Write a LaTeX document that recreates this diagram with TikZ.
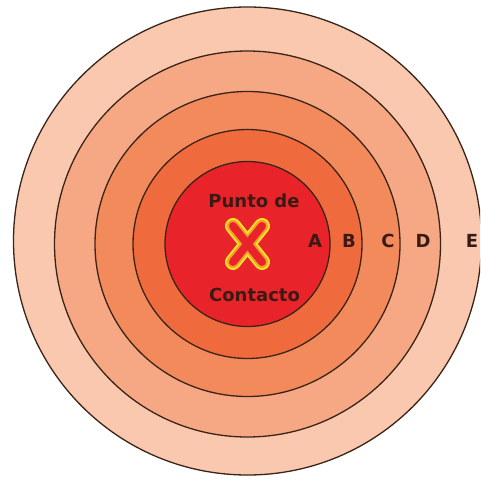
\documentclass[tikz,border=0pt]{standalone}
\usepackage{fontspec}
\setmainfont{DejaVu Sans}
\usepackage{xcolor}
\definecolor{zoneE}{HTML}{F9C8AE}
\definecolor{zoneD}{HTML}{F6A884}
\definecolor{zoneC}{HTML}{F28A5C}
\definecolor{zoneB}{HTML}{EF6B3E}
\definecolor{zoneA}{HTML}{E8242A}
\definecolor{ringline}{HTML}{3A2418}
\definecolor{txt}{HTML}{3A1A14}
\definecolor{xyellow}{HTML}{F8E02A}
\definecolor{xorange}{HTML}{F2A428}
\tikzset{
  ring/.style={draw=ringline, line width=1.3pt},
  zonelbl/.style={text=txt, font=\bfseries\fontsize{18}{20}\selectfont, inner sep=0pt},
}

\begin{document}
\begin{tikzpicture}[x=1pt, y=-1pt]
        \useasboundingbox (0,0) rectangle (480,481);
        \clip (0,0) rectangle (480,481);
        \fill [white](0,0) rectangle (480,481);

        \coordinate (ctr) at (247.5,244);
        % zones, outside in
        \draw [ring, fill=zoneE](247.5,241) circle (234);
        \draw [ring, fill=zoneD](ctr) circle (193);
        \draw [ring, fill=zoneC](ctr) circle (152.5);
        \draw [ring, fill=zoneB](ctr) circle (114.5);
        \draw [ring, fill=zoneA](ctr) circle (82.5);

        % contact mark
        \foreach \w/\c in {16/xyellow, 12/xorange, 8/zoneA}{
            \draw [\c, line width=\w pt, line cap=round](233,226) -- (262,262);
            \draw [\c, line width=\w pt, line cap=round](262,226) -- (233,262);
        }

        \node [zonelbl] (punto) at (254,201) {Punto de};
        \node [zonelbl] (contacto) at (254.5,295) {Contacto};

        \node [zonelbl] (lblA) at (315,241) {A};
        \node [zonelbl] (lblB) at (349,241) {B};
        \node [zonelbl] (lblC) at (388,241) {C};
        \node [zonelbl] (lblD) at (423,241) {D};
        \node [zonelbl] (lblE) at (472,241) {E};
    \end{tikzpicture}
\end{document}
